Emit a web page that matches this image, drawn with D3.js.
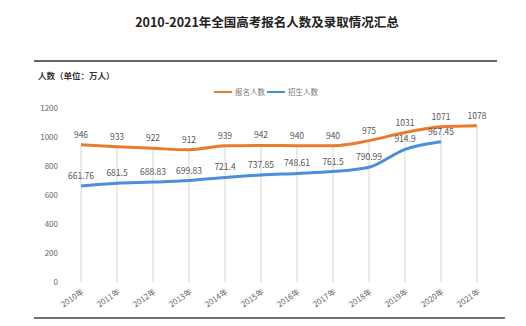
<!DOCTYPE html>
<html><head><meta charset="utf-8">
<script src="https://cdn.jsdelivr.net/npm/d3@7"></script>
<style>body{margin:0;background:#fff}svg{display:block}text{font-family:"Noto Sans CJK SC","Noto Sans",sans-serif}</style>
</head><body><svg id="c" width="526" height="326"></svg>
<script>
const years = ["2010年","2011年","2012年","2013年","2014年","2015年","2016年","2017年","2018年","2019年","2020年","2021年"];
const applicants = [946,933,922,912,939,942,940,940,975,1031,1071,1078];
const admitted = [661.76,681.5,688.83,699.83,721.4,737.85,748.61,761.5,790.99,914.9,967.45,null];
const yTicks = [0,200,400,600,800,1000,1200];
const seriesNames = ["报名人数","招生人数"];
const colors = ["#ea7a2c","#4a8edc"];

const svg = d3.select("#c");
const x = d3.scalePoint().domain(years).range([81,477]);
const y = d3.scaleLinear().domain([0,1200]).range([282,108]);

svg.append("text").attr("x",267).attr("y",27).attr("text-anchor","middle")
  .attr("font-size",12.5).attr("font-weight","bold").attr("fill","#222")
  .text("2010-2021年全国高考报名人数及录取情况汇总");
svg.append("line").attr("x1",34).attr("x2",497).attr("y1",61).attr("y2",61)
  .attr("stroke","#333").attr("stroke-width",1.5);
svg.append("line").attr("x1",34).attr("x2",505).attr("y1",318).attr("y2",318)
  .attr("stroke","#444").attr("stroke-width",1.5);
svg.append("text").attr("x",38).attr("y",79).attr("font-size",8.5).attr("font-weight",600)
  .attr("fill","#333").text("人数（单位：万人）");

// legend
const lg = svg.append("g");
[[214,235],[267,288]].forEach((p,i)=>{
  lg.append("line").attr("x1",p[0]).attr("x2",p[0]+18).attr("y1",92).attr("y2",92)
    .attr("stroke",colors[i]).attr("stroke-width",2);
  lg.append("text").attr("x",p[1]).attr("y",95).attr("font-size",7.5).attr("fill","#777").text(seriesNames[i]);
});

// y axis
const ya = svg.append("g").attr("transform","translate(58,0)")
  .call(d3.axisLeft(y).tickValues(yTicks).tickFormat(d3.format("d")).tickSize(0).tickPadding(0));
ya.select(".domain").remove();
ya.selectAll("text").attr("font-size",8).attr("fill","#666");

// drop lines
svg.append("g").selectAll("line").data(years).join("line")
  .attr("x1",d=>x(d)).attr("x2",d=>x(d))
  .attr("y1",(d,i)=>y(applicants[i])).attr("y2",y(0))
  .attr("stroke","#d6d6d6").attr("stroke-width",1);

// x axis
const xa = svg.append("g").attr("transform",`translate(0,${y(0)})`)
  .call(d3.axisBottom(x).tickSize(0).tickPadding(0));
xa.select(".domain").remove();
xa.selectAll("text").attr("font-size",8).attr("fill","#666")
  .attr("text-anchor","end").attr("dy",0)
  .attr("transform","translate(3,11) rotate(-35)");

const line = d3.line().defined(d=>d.v!=null).x(d=>x(d.k)).y(d=>y(d.v)).curve(d3.curveMonotoneX);
[applicants,admitted].forEach((arr,si)=>{
  const data = years.map((k,i)=>({k,v:arr[i]}));
  svg.append("path").datum(data).attr("d",line).attr("fill","none")
    .attr("stroke",colors[si]).attr("stroke-width",3).attr("stroke-linejoin","round");
  svg.append("g").selectAll("text").data(data.filter(d=>d.v!=null)).join("text")
    .attr("x",d=>x(d.k)).attr("y",d=>y(d.v)-7).attr("text-anchor","middle")
    .attr("font-size",8.5).attr("fill","#555").text(d=>d.v);
});
</script></body></html>
